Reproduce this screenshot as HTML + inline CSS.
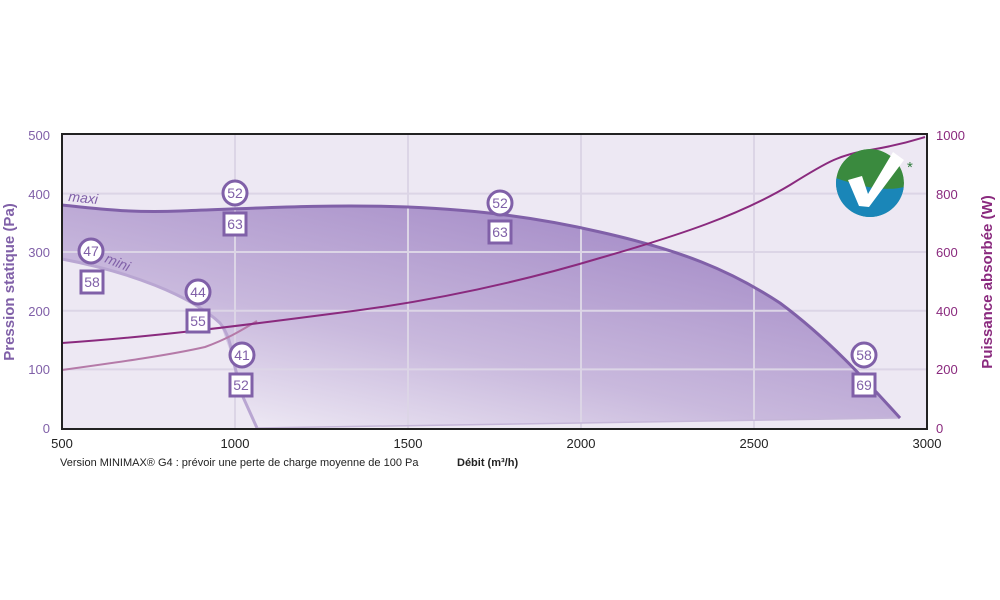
<!DOCTYPE html>
<html><head><meta charset="utf-8"><style>body{margin:0;background:#fff}svg{display:block;font-family:"Liberation Sans",sans-serif}</style></head><body>
<svg width="1000" height="600" viewBox="0 0 1000 600">
<defs>
<linearGradient id="g" x1="0.1" y1="1" x2="0.8" y2="0.15">
<stop offset="0" stop-color="#f4f1f8"/><stop offset="0.45" stop-color="#c9b9dd"/><stop offset="1" stop-color="#a68dc8"/></linearGradient>
<clipPath id="lc"><circle cx="870" cy="183" r="34"/></clipPath>
</defs>
<rect x="62" y="134" width="865" height="295" fill="#ede8f3"/>
<path d="M62,205 C100,209 130,213 180,211 C260,208 330,204 408,207 C480,210 540,218 600,232 C680,250 730,270 780,303 C830,340 870,385 900,418 L257,428 L243,397 L233,360 L220,323 C190,295 130,272 62,259 Z" fill="url(#g)"/>
<g stroke="#dcd5e6" stroke-width="2">
<line x1="235" y1="134" x2="235" y2="429"/><line x1="408" y1="134" x2="408" y2="429"/><line x1="581" y1="134" x2="581" y2="429"/><line x1="754" y1="134" x2="754" y2="429"/>
<line x1="62" y1="193.6" x2="927" y2="193.6"/><line x1="62" y1="252" x2="927" y2="252"/><line x1="62" y1="310.8" x2="927" y2="310.8"/><line x1="62" y1="369.4" x2="927" y2="369.4"/>
</g>
<path d="M257,428 L900,418" stroke="#c5b6d8" stroke-width="1.5" fill="none"/>
<path d="M62,259 C130,272 190,295 220,323 C228,333 231,345 233,360 L243,397 L257,428" stroke="#b9a6d2" stroke-width="3" fill="none"/>
<path d="M62,205 C100,209 130,213 180,211 C260,208 330,204 408,207 C480,210 540,218 600,232 C680,250 730,270 780,303 C830,340 870,385 900,418" stroke="#8060a8" stroke-width="3" fill="none"/>
<path d="M62,370 C120,362 170,355 205,347 C230,338 245,328 257,321" stroke="#b57aa8" stroke-width="2" fill="none"/>
<path d="M62,343 C150,337 230,327 330,314 C430,302 520,282 600,258 C680,235 740,215 790,185 C830,160 840,155 870,150 C900,145 915,140 925,137" stroke="#8a2a7e" stroke-width="2" fill="none"/>
<rect x="62" y="134" width="865" height="295" fill="none" stroke="#222" stroke-width="2"/>
<g font-size="14" fill="#8060a8" text-anchor="middle">
<g fill="#fff" stroke="#8060a8" stroke-width="3">
<circle cx="235" cy="193" r="12"/><circle cx="500" cy="203" r="12"/><circle cx="91" cy="251" r="12"/><circle cx="198" cy="292" r="12"/><circle cx="242" cy="355" r="12"/><circle cx="864" cy="355" r="12"/>
<rect x="224" y="213" width="22" height="22"/><rect x="489" y="221" width="22" height="22"/><rect x="81" y="271" width="22" height="22"/><rect x="187" y="310" width="22" height="22"/><rect x="230" y="374" width="22" height="22"/><rect x="853" y="374" width="22" height="22"/>
</g>
<text x="235" y="198">52</text><text x="500" y="208">52</text><text x="91" y="256">47</text><text x="198" y="297">44</text><text x="242" y="360">41</text><text x="864" y="360">58</text>
<text x="235" y="229">63</text><text x="500" y="237">63</text><text x="92" y="287">58</text><text x="198" y="326">55</text><text x="241" y="390">52</text><text x="864" y="390">69</text>
</g>
<text x="68" y="201" font-size="14" font-style="italic" fill="#8060a8" transform="rotate(6 68 201)">maxi</text>
<text x="104" y="262" font-size="14" font-style="italic" fill="#8060a8" transform="rotate(22 104 262)">mini</text>
<g font-size="13" fill="#8060a8" text-anchor="end">
<text x="50" y="140">500</text><text x="50" y="199">400</text><text x="50" y="257">300</text><text x="50" y="316">200</text><text x="50" y="374">100</text><text x="50" y="433">0</text></g>
<g font-size="13" fill="#8a2a7e">
<text x="936" y="140">1000</text><text x="936" y="199">800</text><text x="936" y="257">600</text><text x="936" y="316">400</text><text x="936" y="374">200</text><text x="936" y="433">0</text></g>
<g font-size="13" fill="#222" text-anchor="middle">
<text x="62" y="448">500</text><text x="235" y="448">1000</text><text x="408" y="448">1500</text><text x="581" y="448">2000</text><text x="754" y="448">2500</text><text x="927" y="448">3000</text></g>
<text x="60" y="466" font-size="11" fill="#222">Version MINIMAX® G4 : prévoir une perte de charge moyenne de 100 Pa</text>
<text x="457" y="466" font-size="11" font-weight="bold" fill="#222">Débit (m³/h)</text>
<text transform="translate(14 282) rotate(-90)" font-size="15" font-weight="bold" fill="#8060a8" text-anchor="middle">Pression statique (Pa)</text>
<text transform="translate(992 282) rotate(-90)" font-size="15" font-weight="bold" fill="#8a2a7e" text-anchor="middle">Puissance absorbée (W)</text>
<g clip-path="url(#lc)">
<circle cx="870" cy="183" r="34" fill="#3a8a3e"/>
<path d="M830,176 C850,183 885,195 910,185 L910,225 L830,225 Z" fill="#1a86b8"/>
</g>
<path d="M848,180 L862,176 L868,194 L893,152 L904,160 L869,207 L859,206 Z" fill="#fff"/>
<text x="907" y="172" font-size="15" fill="#2f7d3c">*</text>
</svg>
</body></html>
